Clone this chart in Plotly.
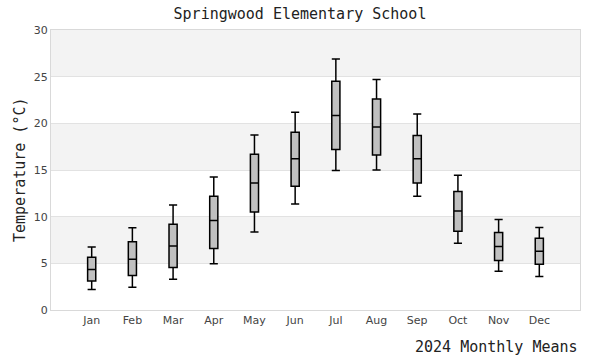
import plotly.graph_objects as go

months = ["Jan", "Feb", "Mar", "Apr", "May", "Jun", "Jul", "Aug", "Sep", "Oct", "Nov", "Dec"]
lower = [2.2, 2.45, 3.3, 4.95, 8.35, 11.35, 14.95, 15.0, 12.2, 7.15, 4.15, 3.6]
q1 = [3.1, 3.7, 4.55, 6.6, 10.5, 13.25, 17.2, 16.6, 13.6, 8.45, 5.3, 4.9]
median = [4.35, 5.45, 6.85, 9.6, 13.6, 16.2, 20.85, 19.6, 16.2, 10.6, 6.8, 6.3]
q3 = [5.65, 7.3, 9.2, 12.2, 16.7, 19.05, 24.5, 22.6, 18.7, 12.7, 8.3, 7.7]
upper = [6.75, 8.8, 11.25, 14.25, 18.75, 21.2, 26.9, 24.7, 21.0, 14.45, 9.7, 8.85]

y_ticks = [0, 5, 10, 15, 20, 25, 30]

fig = go.Figure()
fig.add_trace(go.Box(
    x=months, q1=q1, median=median, q3=q3, lowerfence=lower, upperfence=upper,
    fillcolor="#c0c0c0", line=dict(color="#000000", width=1.5),
    width=0.2, whiskerwidth=1, boxpoints=False, hoverinfo="skip",
))

shapes = []
for i in range(1, len(y_ticks) - 1, 2):
    shapes.append(dict(type="rect", xref="paper", yref="y", x0=0, x1=1,
                       y0=y_ticks[i], y1=y_ticks[i + 1],
                       fillcolor="#f3f3f3", line=dict(width=0), layer="below"))

mono = "DejaVu Sans Mono"
W, H = 600, 360
fig.update_layout(
    width=W, height=H,
    margin=dict(l=51, r=20, t=30, b=50, autoexpand=False),
    paper_bgcolor="white", plot_bgcolor="white",
    showlegend=False,
    shapes=shapes,
    title=dict(text="Springwood Elementary School", x=0.5, xanchor="center",
               y=1 - 14 / H, yanchor="middle", yref="container",
               font=dict(family=mono, size=15, color="#222222")),
    xaxis=dict(type="category", range=[-1, 12], showgrid=False, zeroline=False,
               showline=True, mirror=True, linecolor="#d9d9d9", linewidth=1,
               ticks="", tickfont=dict(family="DejaVu Sans", size=11, color="#444444")),
    yaxis=dict(range=[0, 30], tickvals=y_ticks, showgrid=True, gridcolor="#e2e2e2",
               gridwidth=1, zeroline=False, showline=True, mirror=True,
               linecolor="#d9d9d9", linewidth=1, ticks="",
               tickfont=dict(family="DejaVu Sans", size=11, color="#444444")),
    annotations=[
        dict(text="2024 Monthly Means", xref="paper", yref="paper", x=1, y=-37 / 280,
             xanchor="right", yanchor="middle", showarrow=False,
             font=dict(family=mono, size=15, color="#222222")),
        dict(text="Temperature (°C)", xref="paper", yref="paper", x=-31 / 529, y=0.5,
             xanchor="center", yanchor="middle", textangle=-90, showarrow=False,
             font=dict(family=mono, size=15, color="#222222")),
    ],
)

fig.write_html("out.html", config={"displayModeBar": False},
               post_script="document.body.style.margin='0';")
